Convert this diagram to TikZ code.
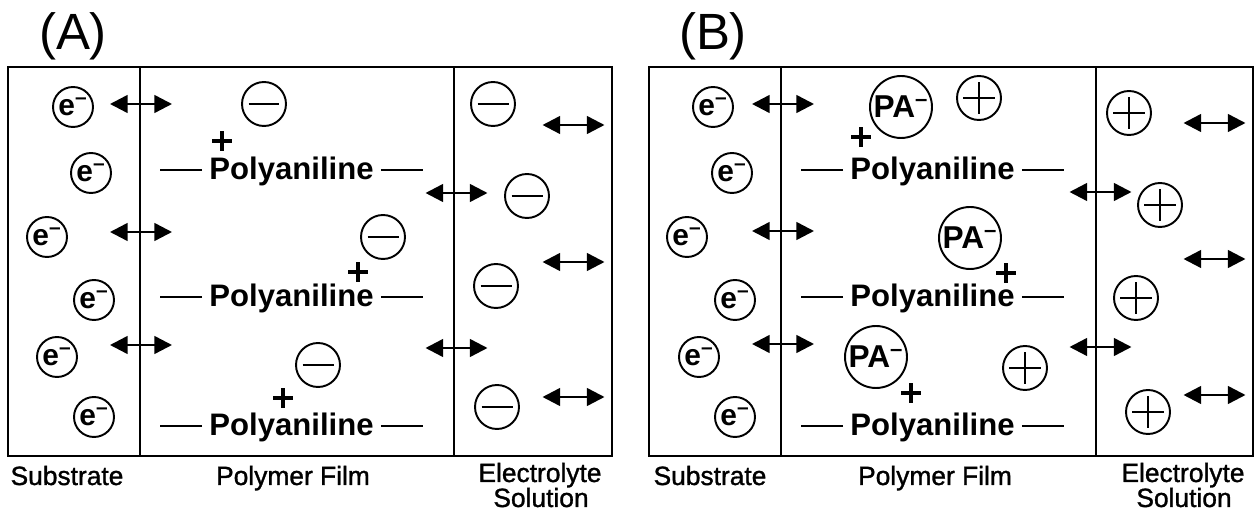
\documentclass[tikz,border=0pt]{standalone}
\usepackage{fontspec}
\setmainfont{Liberation Sans}
\newfontfamily\lblfont[FakeBold=1.2]{Liberation Sans}
\usetikzlibrary{arrows.meta,positioning,calc}
\tikzset{
  wall/.style    = {line width=1pt},
  ion/.style     = {circle, draw, line width=1.1pt, fill=white, inner sep=0pt},
  elec/.style    = {ion, minimum size=0.8cm, font=\fontsize{17}{17}\selectfont\bfseries},
  bigion/.style  = {ion, minimum size=1.24cm, font=\fontsize{18}{18}\selectfont\bfseries},
  anion/.style   = {ion, minimum size=0.88cm, path picture={\draw[line width=1.2pt]
      ([xshift=-0.31cm]path picture bounding box.center) -- ([xshift=0.31cm]path picture bounding box.center);}},
  cation/.style  = {ion, minimum size=0.88cm, path picture={\draw[line width=1.2pt]
      ([xshift=-0.32cm]path picture bounding box.center) -- ([xshift=0.32cm]path picture bounding box.center)
      ([yshift=-0.32cm]path picture bounding box.center) -- ([yshift=0.32cm]path picture bounding box.center);}},
  chg/.style     = {minimum size=0.4cm, inner sep=0pt, path picture={\draw[line width=2pt]
      ([xshift=-0.2cm]path picture bounding box.center) -- ([xshift=0.2cm]path picture bounding box.center)
      ([yshift=-0.2cm]path picture bounding box.center) -- ([yshift=0.2cm]path picture bounding box.center);}},
  polymer/.style = {font=\fontsize{17.7}{18}\selectfont\bfseries, inner sep=0pt, anchor=base},
  bond/.style    = {line width=0.9pt},
  shuttle/.style = {{Triangle[length=10pt,width=10pt]}-{Triangle[length=10pt,width=10pt]}, line width=1.4pt},
  panel/.style   = {font=\fontsize{29}{29}\selectfont, anchor=base, inner sep=0pt},
  lbl/.style     = {font=\fontsize{15}{15}\lblfont, anchor=base, inner sep=0pt},
}
\begin{document}
\begin{tikzpicture}[x=0.02cm, y=-0.02cm]
  \useasboundingbox (0,0) rectangle (1258,516);
  % ---------------- panel A ----------------
  \node[panel] (tA) at (73,50) {(A)};
  \draw[wall] (8,67) rectangle (612,456);
  \draw[wall] (140,67) -- (140,456) (454,67) -- (454,456);
  % substrate electrons
  \node[elec] (eA1) at (73,107)  {e\textsuperscript{–}};
  \node[elec] (eA2) at (91,173)  {e\textsuperscript{–}};
  \node[elec] (eA3) at (47,237)  {e\textsuperscript{–}};
  \node[elec] (eA4) at (94,300)  {e\textsuperscript{–}};
  \node[elec] (eA5) at (57,357)  {e\textsuperscript{–}};
  \node[elec] (eA6) at (94,417)  {e\textsuperscript{–}};
  \coordinate (xA1) at (141,104);
  \coordinate (xA2) at (141,232);
  \coordinate (xA3) at (141,345);
  \draw[shuttle] ($(xA1)+(-31,0)$) -- ($(xA1)+(31,0)$);
  \draw[shuttle] ($(xA2)+(-31,0)$) -- ($(xA2)+(31,0)$);
  \draw[shuttle] ($(xA3)+(-31,0)$) -- ($(xA3)+(31,0)$);
  % polymer film
  \node[anion] (aA1) at (264,104) {};
  \node[anion] (aA2) at (383,237) {};
  \node[anion] (aA3) at (318,365) {};
  \node[chg] (hA1) at (222,141) {};
  \node[chg] (hA2) at (358,272) {};
  \node[chg] (hA3) at (283,398) {};
  \node[polymer] (pA1) at (291.5,180) {Polyaniline};
  \node[polymer] (pA2) at (291.5,307) {Polyaniline};
  \node[polymer] (pA3) at (291.5,436) {Polyaniline};
  \draw[bond] ($(pA1.base west)+(-7,-10)$) -- ++(-42,0) ($(pA1.base east)+(7,-10)$) -- ++(42,0);
  \draw[bond] ($(pA2.base west)+(-7,-10)$) -- ++(-42,0) ($(pA2.base east)+(7,-10)$) -- ++(42,0);
  \draw[bond] ($(pA3.base west)+(-7,-10)$) -- ++(-42,0) ($(pA3.base east)+(7,-10)$) -- ++(42,0);
  \coordinate (bA1) at (456.5,193);
  \coordinate (bA2) at (456.5,348);
  \draw[shuttle] ($(bA1)+(-31,0)$) -- ($(bA1)+(31,0)$);
  \draw[shuttle] ($(bA2)+(-31,0)$) -- ($(bA2)+(31,0)$);
  % electrolyte
  \node[anion] (sA1) at (493,104) {};
  \node[anion] (sA2) at (527,196) {};
  \node[anion] (sA3) at (496,286) {};
  \node[anion] (sA4) at (497,407) {};
  \coordinate (rA1) at (573.5,125);
  \coordinate (rA2) at (573.5,262);
  \coordinate (rA3) at (573.5,397);
  \draw[shuttle] ($(rA1)+(-31,0)$) -- ($(rA1)+(31,0)$);
  \draw[shuttle] ($(rA2)+(-31,0)$) -- ($(rA2)+(31,0)$);
  \draw[shuttle] ($(rA3)+(-31,0)$) -- ($(rA3)+(31,0)$);
  % labels
  \node[lbl] (subA) at (67,485) {Substrate};
  \node[lbl] (filA) at (293,485) {Polymer Film};
  \node[lbl] (eltA) at (540,482) {Electrolyte};
  \node[lbl] (solA) at ($(eltA.base)+(1,25)$) {Solution};
  % ---------------- panel B ----------------
  \node[panel] (tB) at (713,50) {(B)};
  \draw[wall] (649,67) rectangle (1253,456);
  \draw[wall] (781,67) -- (781,456) (1096,67) -- (1096,456);
  % substrate electrons
  \node[elec] (eB1) at (713,107) {e\textsuperscript{–}};
  \node[elec] (eB2) at (732,173) {e\textsuperscript{–}};
  \node[elec] (eB3) at (687,237) {e\textsuperscript{–}};
  \node[elec] (eB4) at (735,300) {e\textsuperscript{–}};
  \node[elec] (eB5) at (699,357) {e\textsuperscript{–}};
  \node[elec] (eB6) at (735,417) {e\textsuperscript{–}};
  \coordinate (xB1) at (783,104);
  \coordinate (xB2) at (783,231);
  \coordinate (xB3) at (783,344);
  \draw[shuttle] ($(xB1)+(-31,0)$) -- ($(xB1)+(31,0)$);
  \draw[shuttle] ($(xB2)+(-31,0)$) -- ($(xB2)+(31,0)$);
  \draw[shuttle] ($(xB3)+(-31,0)$) -- ($(xB3)+(31,0)$);
  % polymer film with bound polyanion
  \node[bigion] (gB1) at (901,107) {PA\textsuperscript{–}};
  \node[bigion] (gB2) at (970,238) {PA\textsuperscript{–}};
  \node[bigion] (gB3) at (876,357) {PA\textsuperscript{–}};
  \node[cation] (cB1) at (979,98) {};
  \node[cation] (cB2) at (1025,368) {};
  \node[chg] (hB1) at (861,137) {};
  \node[chg] (hB2) at (1006,273) {};
  \node[chg] (hB3) at (911,393) {};
  \node[polymer] (pB1) at (932.5,180) {Polyaniline};
  \node[polymer] (pB2) at (932.5,307) {Polyaniline};
  \node[polymer] (pB3) at (932.5,436) {Polyaniline};
  \draw[bond] ($(pB1.base west)+(-7,-10)$) -- ++(-42,0) ($(pB1.base east)+(7,-10)$) -- ++(42,0);
  \draw[bond] ($(pB2.base west)+(-7,-10)$) -- ++(-42,0) ($(pB2.base east)+(7,-10)$) -- ++(42,0);
  \draw[bond] ($(pB3.base west)+(-7,-10)$) -- ++(-42,0) ($(pB3.base east)+(7,-10)$) -- ++(42,0);
  \coordinate (bB1) at (1100.5,192);
  \coordinate (bB2) at (1100.5,347);
  \draw[shuttle] ($(bB1)+(-31,0)$) -- ($(bB1)+(31,0)$);
  \draw[shuttle] ($(bB2)+(-31,0)$) -- ($(bB2)+(31,0)$);
  % electrolyte
  \node[cation] (sB1) at (1129,113) {};
  \node[cation] (sB2) at (1160,205) {};
  \node[cation] (sB3) at (1136,298) {};
  \node[cation] (sB4) at (1148,412) {};
  \coordinate (rB1) at (1214.5,123);
  \coordinate (rB2) at (1214.5,259);
  \coordinate (rB3) at (1214.5,395);
  \draw[shuttle] ($(rB1)+(-31,0)$) -- ($(rB1)+(31,0)$);
  \draw[shuttle] ($(rB2)+(-31,0)$) -- ($(rB2)+(31,0)$);
  \draw[shuttle] ($(rB3)+(-31,0)$) -- ($(rB3)+(31,0)$);
  % labels
  \node[lbl] (subB) at (710,485) {Substrate};
  \node[lbl] (filB) at (935,485) {Polymer Film};
  \node[lbl] (eltB) at (1183,482) {Electrolyte};
  \node[lbl] (solB) at ($(eltB.base)+(1,25)$) {Solution};
\end{tikzpicture}
\end{document}
